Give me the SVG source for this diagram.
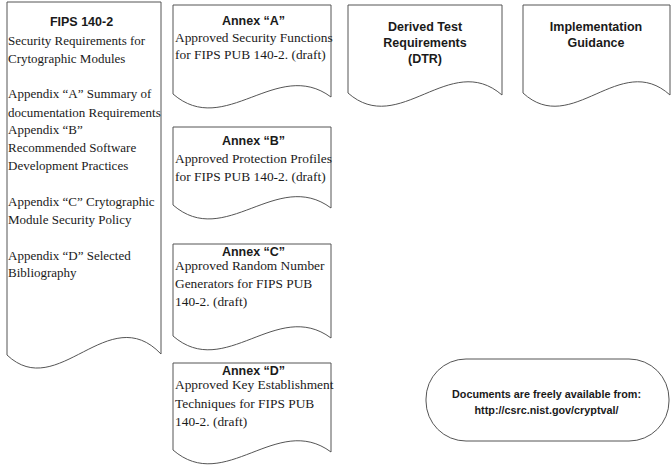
<svg xmlns="http://www.w3.org/2000/svg" width="672" height="465" viewBox="0 0 672 465">
<style>
.doc{fill:#fff;stroke:#555;stroke-width:1}
.t{font-family:"Liberation Serif","Times New Roman",serif;font-size:13.4px;fill:#1a1a1a}
.f{font-size:13px}
.h{font-family:"Liberation Sans",Arial,sans-serif;font-size:12.5px;font-weight:bold;fill:#1a1a1a;text-anchor:middle}
.s{font-family:"Liberation Sans",Arial,sans-serif;font-size:10.8px;font-weight:bold;fill:#1a1a1a;text-anchor:middle}
</style>
<rect width="672" height="465" fill="#fff"/>
<g id="fips">
<path class="doc" d="M7 2 H161 V354 C108.6 299 57.8 403 7 355 Z"/>
<text class="h" x="81.5" y="26">FIPS 140-2</text>
<text class="t f" x="8" y="45">Security Requirements for</text>
<text class="t f" x="8" y="63">Crytographic Modules</text>
<text class="t f" x="8" y="98">Appendix “A”  Summary of</text>
<text class="t f" x="8" y="117">documentation Requirements</text>
<text class="t f" x="8" y="134">Appendix “B”</text>
<text class="t f" x="8" y="152">Recommended Software</text>
<text class="t f" x="8" y="170">Development Practices</text>
<text class="t f" x="8" y="206">Appendix “C” Crytographic</text>
<text class="t f" x="8" y="224">Module Security Policy</text>
<text class="t f" x="8" y="260">Appendix “D” Selected</text>
<text class="t f" x="8" y="277">Bibliography</text>
</g>
<g id="annexA">
<path class="doc" d="M173 5 H331 V97 C277 57 225 139 173 94 Z"/>
<text class="h" x="253.5" y="25">Annex “A”</text>
<text class="t" x="175" y="42">Approved Security Functions</text>
<text class="t" x="175" y="59">for FIPS PUB 140-2. (draft)</text>
</g>
<g id="annexB">
<path class="doc" d="M173 127 H331 V208 C277 168 225 250 173 205 Z"/>
<text class="h" x="253.5" y="145">Annex “B”</text>
<text class="t" x="175" y="163">Approved Protection Profiles</text>
<text class="t" x="175" y="181">for FIPS PUB 140-2. (draft)</text>
</g>
<g id="annexC">
<path class="doc" d="M173 244 H331 V338 C277 298 225 381 173 336 Z"/>
<text class="h" x="253.5" y="256">Annex “C”</text>
<text class="t" x="175" y="270">Approved Random Number</text>
<text class="t" x="175" y="288">Generators for FIPS PUB</text>
<text class="t" x="175" y="306">140-2. (draft)</text>
</g>
<g id="annexD">
<path class="doc" d="M173 363 H331 V452 C277 412 225 495 173 450 Z"/>
<text class="h" x="253.5" y="375">Annex “D”</text>
<text class="t" x="175" y="389">Approved Key Establishment</text>
<text class="t" x="175" y="408">Techniques for FIPS PUB</text>
<text class="t" x="175" y="426">140-2. (draft)</text>
</g>
<g id="dtr">
<path class="doc" d="M348 5 H502 V95 C450 50 399 138 348 93 Z"/>
<text class="h" x="425" y="31">Derived Test</text>
<text class="h" x="425" y="47">Requirements</text>
<text class="h" x="425" y="63">(DTR)</text>
</g>
<g id="impl">
<path class="doc" d="M523 5 H670 V95 C620 50 572 138 523 93 Z"/>
<text class="h" x="596" y="31">Implementation</text>
<text class="h" x="596" y="47">Guidance</text>
</g>
<g id="note">
<rect class="doc" x="426" y="359" width="243" height="82" rx="40" ry="40"/>
<text class="s" x="546.5" y="398">Documents are freely available from:</text>
<text class="s" x="546.5" y="414">http://csrc.nist.gov/cryptval/</text>
</g>
<g id="connectors"/>
</svg>
